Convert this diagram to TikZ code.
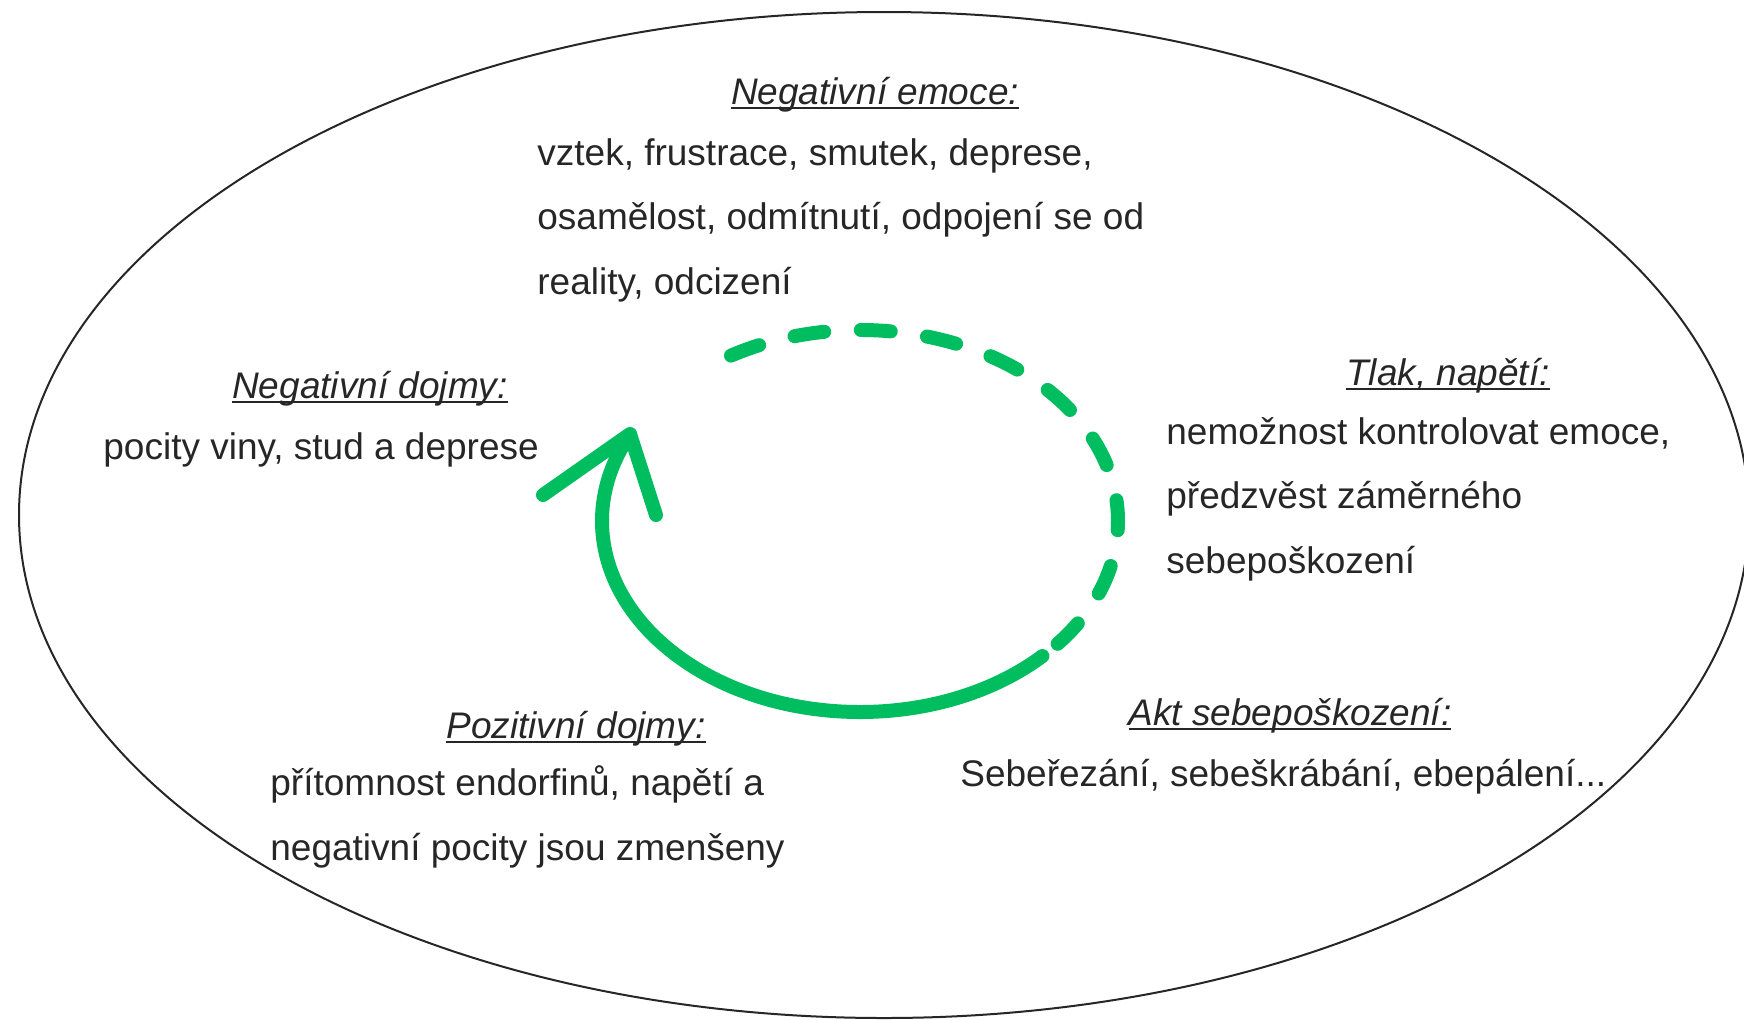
\documentclass[tikz,border=0pt]{standalone}
\usepackage{fontspec}
\setmainfont{Liberation Sans}
\usepackage{tikz}

\definecolor{cyclegreen}{RGB}{0,190,96}
\definecolor{inkgray}{RGB}{38,38,38}

% underlined heading text
\newcommand{\ulin}[1]{\setbox0=\hbox{#1}\rlap{\rule[-2.6pt]{\wd0}{1.1pt}}\box0}

\begin{document}
\begin{tikzpicture}[x=0.5pt, y=-0.5pt,
    every node/.style={inner sep=0pt, text=inkgray},
    heading/.style={anchor=base, font=\fontsize{18.5}{22}\selectfont\itshape},
    body/.style={anchor=base west, align=left, font=\fontsize{18.5}{32.25}\selectfont},
    loopline/.style={draw=cyclegreen, line width=7pt, line cap=round, line join=round}]

    \useasboundingbox (0,0) rectangle (1744,1019);

    \draw[inkgray, line width=1pt] (884,515) ellipse [x radius=865, y radius=503];

    % the cycle
    \draw[loopline, dash pattern=on 15pt off 18.3pt] (860,521) ++(-120:258 and 191)
        arc [start angle=-120, end angle=40, x radius=258, y radius=191];
    \draw[loopline] (860,521) ++(45:258 and 191)
        arc [start angle=45, end angle=207, x radius=258, y radius=191];

    \coordinate (tip) at (630,434);
    \coordinate (barbL) at (543,495);
    \coordinate (barbR) at (656,515);
    \draw[loopline] (barbL) -- (tip) -- (barbR);

    % texts (base = last line)
    \node (emohead) [heading] at (875,104) {\ulin{Negativní emoce:}};
    \node (emobody) [body] at (537,294) {vztek, frustrace, smutek, deprese,\\osamělost, odmítnutí, odpojení se od\\reality, odcizení};

    \node (tlakhead) [heading] at (1448,385) {\ulin{Tlak, napětí:}};
    \node (tlakbody) [body] at (1166,573) {nemožnost kontrolovat emoce,\\předzvěst záměrného\\sebepoškození};

    \node (akthead) [heading] at (1290,725) {\ulin{Akt sebepoškození:}};
    \node (aktbody) [body] at (960,786) {Sebeřezání, sebeškrábání, ebepálení...};

    \node (pozhead) [heading] at (576,738) {\ulin{Pozitivní dojmy:}};
    \node (pozbody) [body] at (270,860) {přítomnost endorfinů, napětí a\\negativní pocity jsou zmenšeny};

    \node (neghead) [heading] at (370,398) {\ulin{Negativní dojmy:}};
    \node (negbody) [body] at (103,459) {pocity viny, stud a deprese};

\end{tikzpicture}
\end{document}
